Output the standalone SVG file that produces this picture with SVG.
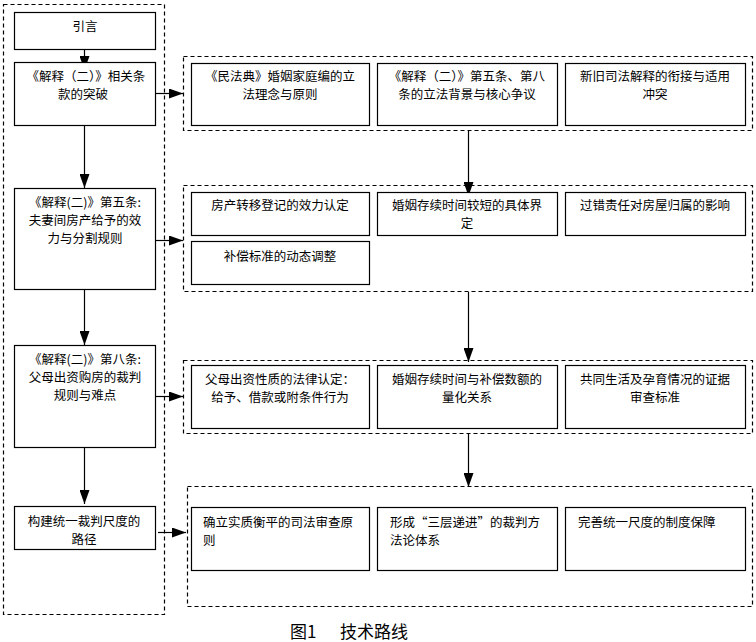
<svg xmlns="http://www.w3.org/2000/svg" width="756" height="642" viewBox="0 0 756 642">
<defs>
<marker id="ah" markerUnits="userSpaceOnUse" markerWidth="14" markerHeight="10" refX="14" refY="5" orient="auto">
<path d="M0,0 L14,5 L0,10 z" fill="#000"/>
</marker>
<style>
.grp{fill:none;stroke:#000;stroke-width:1.2;stroke-dasharray:4,3}
.box{fill:#fff;stroke:#000;stroke-width:1.2}
.t{font-family:"Noto Sans CJK SC","Noto Sans",sans-serif;font-size:12.5px;fill:#000}
.c{text-anchor:middle}
.con{stroke:#000;stroke-width:1.2;fill:none;marker-end:url(#ah)}
</style>
</defs>
<rect width="756" height="642" fill="#fff"/>
<g id="groups">
<rect class="grp" x="3.5" y="4.5" width="161" height="610"/>
<rect class="grp" x="183.5" y="56.5" width="569" height="74"/>
<rect class="grp" x="183.5" y="185.5" width="569" height="106"/>
<rect class="grp" x="183.5" y="360.5" width="569" height="73"/>
<rect class="grp" x="187.5" y="486.5" width="565" height="120"/>
</g>
<g id="connectors">
<line class="con" x1="84.5" y1="49" x2="84.5" y2="70"/>
<line class="con" x1="84.5" y1="125" x2="84.5" y2="188"/>
<line class="con" x1="84.5" y1="289" x2="84.5" y2="345"/>
<line class="con" x1="84.5" y1="447" x2="84.5" y2="504"/>
<line class="con" x1="155" y1="93.5" x2="183" y2="93.5"/>
<line class="con" x1="155" y1="240.5" x2="183" y2="240.5"/>
<line class="con" x1="155" y1="396.5" x2="183" y2="396.5"/>
<line class="con" x1="158" y1="532.5" x2="186" y2="532.5"/>
<line class="con" x1="468.5" y1="131" x2="468.5" y2="196"/>
<line class="con" x1="468.5" y1="292" x2="468.5" y2="362"/>
<line class="con" x1="468.5" y1="434" x2="468.5" y2="487"/>
</g>
<g id="n-intro">
<rect class="box" x="14.5" y="12.5" width="141" height="37"/>
<text class="t c" x="85" y="31">引言</text>
</g>
<g id="n-breakthrough">
<rect class="box" x="14.5" y="62.5" width="141" height="63"/>
<text class="t c" x="86" y="80.5">《解释（二）》相关条</text>
<text class="t c" x="83" y="98.5">款的突破</text>
</g>
<g id="n-art5">
<rect class="box" x="14.5" y="188.5" width="141" height="101"/>
<text class="t c" x="85" y="207">《解释(二)》第五条:</text>
<text class="t c" x="85" y="225">夫妻间房产给予的效</text>
<text class="t c" x="85" y="243">力与分割规则</text>
</g>
<g id="n-art8">
<rect class="box" x="14.5" y="345.5" width="141" height="102"/>
<text class="t c" x="85" y="363.5">《解释(二)》第八条:</text>
<text class="t c" x="85" y="381.5">父母出资购房的裁判</text>
<text class="t c" x="85" y="399.5">规则与难点</text>
</g>
<g id="n-path">
<rect class="box" x="14.5" y="506.5" width="141" height="43"/>
<text class="t c" x="84" y="525.5">构建统一裁判尺度的</text>
<text class="t c" x="84" y="543.5">路径</text>
</g>
<g id="r1a">
<rect class="box" x="191.5" y="63.5" width="178" height="62"/>
<text class="t c" x="280" y="80.5">《民法典》婚姻家庭编的立</text>
<text class="t c" x="280" y="98.5">法理念与原则</text>
</g>
<g id="r1b">
<rect class="box" x="377.5" y="63.5" width="180" height="62"/>
<text class="t c" x="467" y="80.5">《解释（二）》第五条、第八</text>
<text class="t c" x="467" y="98.5">条的立法背景与核心争议</text>
</g>
<g id="r1c">
<rect class="box" x="565.5" y="63.5" width="180" height="62"/>
<text class="t c" x="655" y="80.5">新旧司法解释的衔接与适用</text>
<text class="t c" x="655" y="98.5">冲突</text>
</g>
<g id="r2a">
<rect class="box" x="191.5" y="192.5" width="178" height="43"/>
<text class="t c" x="280" y="210">房产转移登记的效力认定</text>
</g>
<g id="r2b">
<rect class="box" x="377.5" y="192.5" width="180" height="43"/>
<text class="t c" x="467" y="210">婚姻存续时间较短的具体界</text>
<text class="t c" x="467" y="228">定</text>
</g>
<g id="r2c">
<rect class="box" x="565.5" y="192.5" width="180" height="43"/>
<text class="t c" x="655" y="210">过错责任对房屋归属的影响</text>
</g>
<g id="r2d">
<rect class="box" x="191.5" y="241.5" width="178" height="43"/>
<text class="t c" x="280" y="261">补偿标准的动态调整</text>
</g>
<g id="r3a">
<rect class="box" x="191.5" y="365.5" width="178" height="63"/>
<text class="t c" x="280" y="383.5">父母出资性质的法律认定：</text>
<text class="t c" x="280" y="401.5">给予、借款或附条件行为</text>
</g>
<g id="r3b">
<rect class="box" x="377.5" y="365.5" width="180" height="63"/>
<text class="t c" x="467" y="383.5">婚姻存续时间与补偿数额的</text>
<text class="t c" x="467" y="401.5">量化关系</text>
</g>
<g id="r3c">
<rect class="box" x="565.5" y="365.5" width="180" height="63"/>
<text class="t c" x="655" y="383.5">共同生活及孕育情况的证据</text>
<text class="t c" x="655" y="401.5">审查标准</text>
</g>
<g id="r4a">
<rect class="box" x="191.5" y="507.5" width="178" height="63"/>
<text class="t" x="203" y="526.5">确立实质衡平的司法审查原</text>
<text class="t" x="203" y="544.5">则</text>
</g>
<g id="r4b">
<rect class="box" x="377.5" y="507.5" width="180" height="63"/>
<text class="t" x="390" y="526.5">形成“三层递进”的裁判方</text>
<text class="t" x="390" y="544.5">法论体系</text>
</g>
<g id="r4c">
<rect class="box" x="565.5" y="507.5" width="180" height="63"/>
<text class="t" x="578" y="526.5">完善统一尺度的制度保障</text>
</g>
<g id="caption">
<text x="290" y="638" style="font-family:'Noto Sans CJK SC','Noto Sans',sans-serif;font-size:17px;fill:#000">图1<tspan x="340">技术路线</tspan></text>
</g>
</svg>
